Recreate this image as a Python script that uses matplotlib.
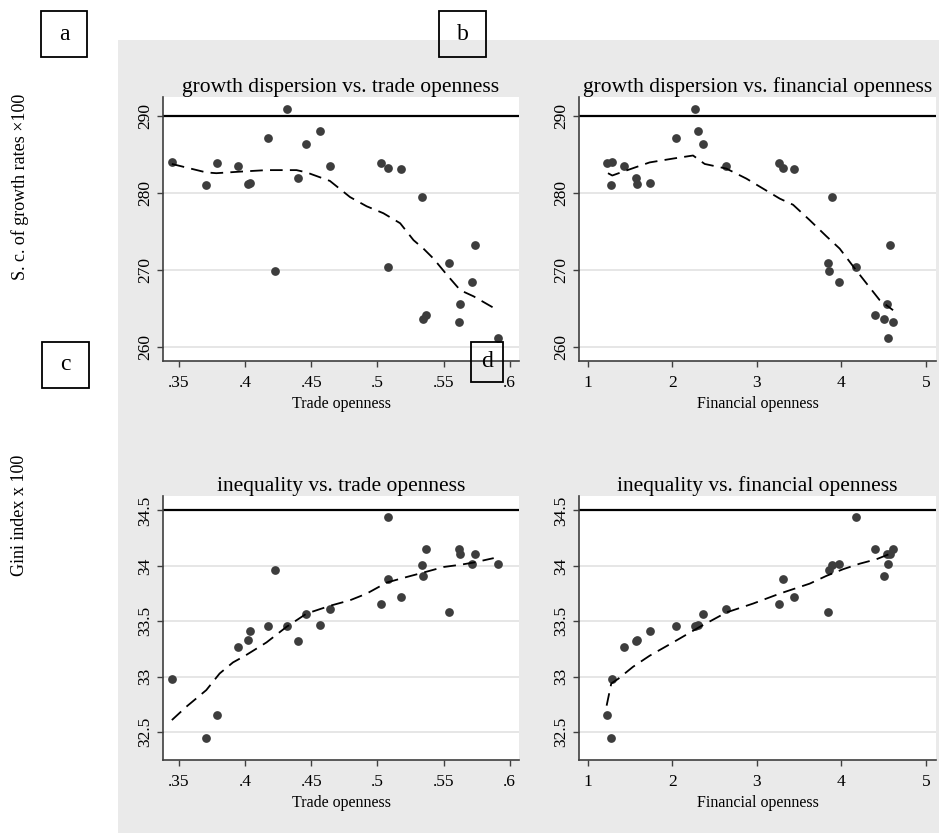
import matplotlib
matplotlib.use("Agg")
import matplotlib.pyplot as plt
from matplotlib.patches import Rectangle

plt.rcParams["font.family"] = ["Liberation Serif", "DejaVu Serif"]

# one entry per observation
trade = [0.3447, 0.3705, 0.3788, 0.3949, 0.4025, 0.4035, 0.4172, 0.4230, 0.4318,
         0.4402, 0.4460, 0.4568, 0.4644, 0.5030, 0.5078, 0.5078, 0.5177, 0.5336,
         0.5348, 0.5369, 0.5543, 0.5616, 0.5626, 0.5715, 0.5737, 0.5912]
finance = [1.290, 1.268, 1.221, 1.426, 1.584, 1.734, 2.040, 3.854, 2.267,
           1.572, 2.362, 2.307, 2.638, 3.262, 3.306, 4.170, 3.444, 3.886,
           4.510, 4.403, 3.846, 4.612, 4.541, 3.977, 4.573, 4.557]
growth_sd = [284.0, 281.1, 283.9, 283.6, 281.2, 281.3, 287.2, 269.9, 290.9,
             282.0, 286.4, 288.1, 283.6, 283.9, 283.3, 270.4, 283.1, 279.5,
             263.6, 264.2, 270.9, 263.3, 265.6, 268.5, 273.3, 261.2]
gini = [32.98, 32.45, 32.66, 33.27, 33.33, 33.41, 33.46, 33.96, 33.46,
        33.32, 33.57, 33.47, 33.61, 33.66, 33.88, 34.44, 33.72, 34.01,
        33.91, 34.15, 33.58, 34.15, 34.11, 34.02, 34.11, 34.02]

# smoothed (lowess) lines
lw_trade_x = [0.3447, 0.3707, 0.3783, 0.396, 0.4162, 0.4389, 0.4465, 0.4641, 0.4793,
              0.4919, 0.5045, 0.5172, 0.5273, 0.5348, 0.5424, 0.5525, 0.5626, 0.5727, 0.5879]
lw_trade_growth = [283.8, 282.7, 282.6, 282.8, 283.0, 283.0, 282.7, 281.6, 279.5,
                   278.3, 277.4, 276.1, 273.9, 272.8, 271.5, 269.4, 267.4, 266.6, 265.1]
lw_trade_x2 = [0.3447, 0.3556, 0.3707, 0.3808, 0.3909, 0.400, 0.4162, 0.4313, 0.4465,
               0.4641, 0.4793, 0.4919, 0.5071, 0.5222, 0.5348, 0.5500, 0.5626, 0.5727, 0.5879]
lw_trade_gini = [32.61, 32.73, 32.88, 33.03, 33.13, 33.19, 33.31, 33.45, 33.57,
                 33.64, 33.69, 33.75, 33.85, 33.90, 33.94, 33.99, 34.01, 34.03, 34.07]
lw_fin_x = [1.237, 1.288, 1.415, 1.572, 1.730, 2.007, 2.244, 2.382, 2.638, 2.875,
            3.270, 3.428, 3.625, 3.823, 3.980, 4.139, 4.296, 4.454, 4.612]
lw_fin_growth = [282.6, 282.3, 282.8, 283.4, 284.0, 284.5, 284.9, 283.8, 283.2, 281.9,
                 279.3, 278.5, 276.5, 274.4, 272.8, 270.5, 268.3, 266.1, 264.8]
lw_fin_x2 = [1.221, 1.276, 1.355, 1.533, 1.730, 2.007, 2.323, 2.638, 2.954, 3.270,
             3.625, 3.823, 4.020, 4.218, 4.415, 4.612]
lw_fin_gini = [32.74, 32.94, 32.98, 33.09, 33.19, 33.31, 33.45, 33.58, 33.66, 33.75,
               33.84, 33.91, 33.97, 34.02, 34.06, 34.12]

trade_ticks = [0.35, 0.4, 0.45, 0.5, 0.55, 0.6]
trade_labels = [".35", ".4", ".45", ".5", ".55", ".6"]
fin_ticks = [1, 2, 3, 4, 5]
growth_ticks = [260, 270, 280, 290]
gini_ticks = [32.5, 33, 33.5, 34, 34.5]
gini_labels = ["32.5", "33", "33.5", "34", "34.5"]

W, H = 939, 833
fig = plt.figure(figsize=(W / 100, H / 100), dpi=100)
fig.patch.set_facecolor("white")

# grey graph region
fig.patches.append(Rectangle((118 / W, 0), 1 - 118 / W, 1 - 40 / H, transform=fig.transFigure,
                             facecolor="#eaeaea", edgecolor="none", zorder=-10))


def make_ax(left, right, top, bottom):
    return fig.add_axes([left / W, 1 - bottom / H, (right - left) / W, (bottom - top) / H])


def style(ax, x, y, lx, ly, xl, yl, xt, xtl, yt, ytl, ref, title, xlabel):
    ax.set_facecolor("white")
    for s in ["top", "right"]:
        ax.spines[s].set_visible(False)
    for s in ["left", "bottom"]:
        ax.spines[s].set_color("#3f3f3f")
        ax.spines[s].set_linewidth(1.2)
    ax.set_xlim(*xl)
    ax.set_ylim(*yl)
    ax.set_xticks(xt)
    ax.set_xticklabels(xtl)
    ax.set_yticks(yt)
    ax.set_yticklabels(ytl, rotation=90, va="center")
    ax.tick_params(direction="out", length=4, width=1, color="#3f3f3f",
                   labelsize=12.5, pad=3)
    ax.tick_params(axis="x", pad=6)
    ax.yaxis.grid(True, color="#e4e4e4", lw=1.3)
    ax.set_axisbelow(True)
    ax.axhline(ref, color="black", lw=1.6, zorder=2)
    ax.plot(x, y, "o", color="#3d3d3d", markersize=6.3, markeredgewidth=0, zorder=3)
    ax.plot(lx, ly, color="black", lw=1.3, dashes=(7, 4), zorder=4)
    ax.set_title(title, fontsize=15.5, pad=2)
    ax.set_xlabel(xlabel, fontsize=11.5, labelpad=4)


ax1 = make_ax(163, 519, 97, 361)
style(ax1, trade, growth_sd, lw_trade_x, lw_trade_growth, (0.338, 0.607), (258.2, 292.5),
      trade_ticks, trade_labels, growth_ticks, [str(t) for t in growth_ticks], 290,
      "growth dispersion vs. trade openness", "Trade openness")

ax2 = make_ax(579, 936, 97, 361)
style(ax2, finance, growth_sd, lw_fin_x, lw_fin_growth, (0.894, 5.12), (258.2, 292.5),
      fin_ticks, [str(t) for t in fin_ticks], growth_ticks, [str(t) for t in growth_ticks], 290,
      "growth dispersion vs. financial openness", "Financial openness")

ax3 = make_ax(163, 519, 496, 760)
style(ax3, trade, gini, lw_trade_x2, lw_trade_gini, (0.338, 0.607), (32.25, 34.63),
      trade_ticks, trade_labels, gini_ticks, gini_labels, 34.5,
      "inequality vs. trade openness", "Trade openness")

ax4 = make_ax(579, 936, 496, 760)
style(ax4, finance, gini, lw_fin_x2, lw_fin_gini, (0.894, 5.12), (32.25, 34.63),
      fin_ticks, [str(t) for t in fin_ticks], gini_ticks, gini_labels, 34.5,
      "inequality vs. financial openness", "Financial openness")

# panel letter boxes
boxes = [("a", 41, 11, 46, 46), ("b", 439, 11, 47, 46), ("c", 42, 342, 47, 46), ("d", 471, 342, 32, 40)]
for letter, bx, by, bw, bh in boxes:
    fig.patches.append(Rectangle((bx / W, 1 - (by + bh) / H), bw / W, bh / H,
                                 transform=fig.transFigure, fill=False,
                                 edgecolor="black", lw=1.3, zorder=10))
    fig.text((bx + bw / 2) / W, 1 - (by + bh / 2) / H, letter, fontsize=17,
             ha="center", va="center", zorder=11)

fig.text(20 / W, 1 - 187 / H, "S. c. of growth rates \u00d7100", rotation=90,
         ha="center", va="center", fontsize=13)
fig.text(20 / W, 1 - 515 / H, "Gini index x 100", rotation=90,
         ha="center", va="center", fontsize=13)

fig.savefig("out.png", dpi=100)
